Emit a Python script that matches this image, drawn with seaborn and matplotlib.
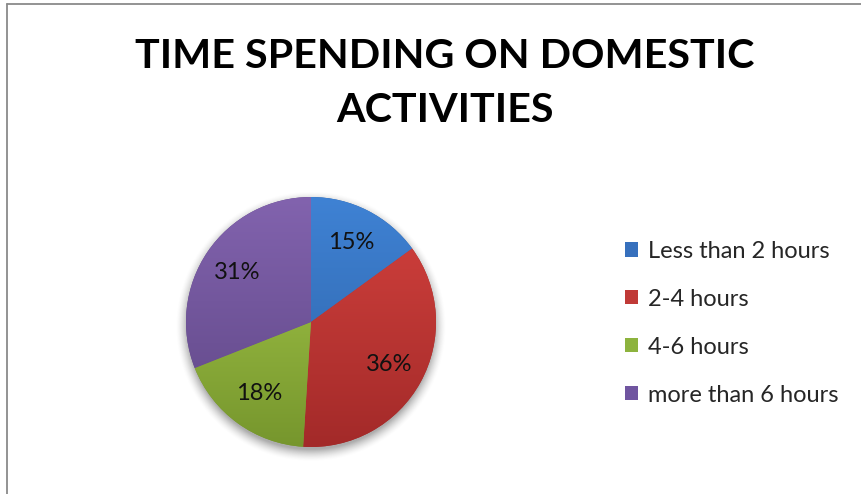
import numpy as np
import matplotlib
matplotlib.use("Agg")
import matplotlib.pyplot as plt
import seaborn as sns
from matplotlib.colors import to_rgb
from matplotlib.patches import Patch
from matplotlib.lines import Line2D

# Data
title_lines = ["TIME SPENDING ON DOMESTIC", "ACTIVITIES"]
categories = ["Less than 2 hours", "2-4 hours", "4-6 hours", "more than 6 hours"]
shares = [15, 36, 18, 31]

# Slice fills (top -> bottom shading)
top_colors = ["#3f82d4", "#d4423e", "#a8cb4c", "#8263ae"]
bottom_colors = ["#2d62a6", "#a32a29", "#76962d", "#5e4685"]
legend_colors = ["#3670bd", "#c03a37", "#8db33e", "#7055a0"]

sns.set_style("white")
plt.rcParams["font.family"] = ["Lato", "DejaVu Sans"]

W, H = 862, 494
fig = plt.figure(figsize=(W / 100, H / 100), dpi=100)
fig.patch.set_facecolor("white")

# Pie placement (pixels)
cx, cy, R = 311, 322, 125
pad = 1.2
ax = fig.add_axes([(cx - R * pad) / W, (H - cy - R * pad) / H,
                   2 * R * pad / W, 2 * R * pad / H])

wedges, texts, autotexts = ax.pie(
    shares, startangle=90, counterclock=False, radius=1,
    autopct=lambda p: f"{p:.0f}%", pctdistance=0.71,
    textprops=dict(fontsize=17, color="#111111"),
    wedgeprops=dict(linewidth=0),
)
ax.set_xlim(-pad, pad)
ax.set_ylim(-pad, pad)
ax.axis("off")

# Vertical gradient for each slice
g = np.linspace(0, 1, 256)[:, None, None]
for w, tc, bc in zip(wedges, top_colors, bottom_colors):
    t = np.array(to_rgb(tc))[None, None, :]
    b = np.array(to_rgb(bc))[None, None, :]
    img = t * (1 - g) + b * g
    img = np.repeat(img, 2, axis=1)
    w.set_facecolor(bc)
    im = ax.imshow(img, extent=(-1, 1, -1, 1), origin="upper",
                   aspect="auto", interpolation="bilinear", zorder=1.5)
    im.set_clip_path(w)

# Soft drop shadow beneath the pie
n = 400
xs = np.linspace(-pad, pad, n)
X, Y = np.meshgrid(xs, xs[::-1])
d = np.hypot(X, Y + 0.035)
alpha = 0.5 * np.clip((1.085 - d) / 0.1, 0, 1) ** 1.6
shadow = np.zeros((n, n, 4))
shadow[..., :3] = 0.35
shadow[..., 3] = alpha
ax.imshow(shadow, extent=(-pad, pad, -pad, pad), aspect="auto",
          interpolation="bilinear", zorder=0.5)
for t in autotexts:
    t.set_zorder(3)

# Title
fig.text(445 / W, 1 - 57 / H, title_lines[0], ha="center", va="center",
         fontsize=29.7, fontweight="bold", color="#000000")
fig.text(445 / W, 1 - 110 / H, title_lines[1], ha="center", va="center",
         fontsize=29.7, fontweight="bold", color="#000000")

# Legend
handles = [Patch(facecolor=c, edgecolor="none") for c in legend_colors]
fig.legend(handles, categories, loc="upper left",
           bbox_to_anchor=(613 / W, 1 - 229 / H), frameon=False,
           fontsize=17, handlelength=0.55, handleheight=0.55,
           handletextpad=0.45, labelspacing=1.14, borderpad=0)

# Chart-area border
fig.add_artist(Line2D([7.5 / W, 7.5 / W], [0, 1 - 4.5 / H],
                      color="#8a8a8a", lw=1.3, transform=fig.transFigure))
fig.add_artist(Line2D([7.5 / W, 1], [1 - 4.5 / H, 1 - 4.5 / H],
                      color="#8a8a8a", lw=1.3, transform=fig.transFigure))

fig.savefig("out.png", dpi=100)
